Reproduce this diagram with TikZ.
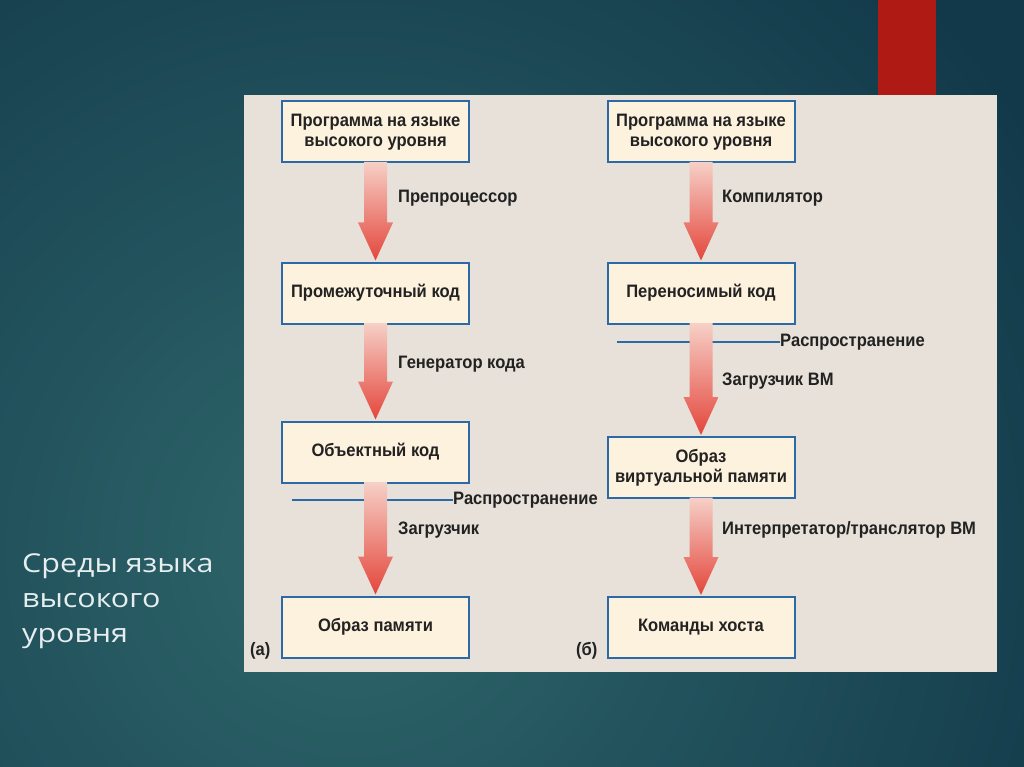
\documentclass[tikz,border=0pt]{standalone}
\usepackage{fontspec}
\setmainfont{Liberation Sans}
\newfontfamily\boxfont[FakeStretch=0.92]{Liberation Sans}
\newfontfamily\titlefont[FakeStretch=1.17]{Open Sans}
\usetikzlibrary{calc}
\definecolor{bgin}{HTML}{2F676B}
\definecolor{bgout}{HTML}{12394A}
\definecolor{redbar}{HTML}{B01A15}
\definecolor{panel}{HTML}{E7E1D9}
\definecolor{boxfill}{HTML}{FDF2DE}
\definecolor{boxline}{HTML}{2B6AA6}
\definecolor{txt}{HTML}{222222}
\definecolor{arrtop}{HTML}{F6D0C7}
\definecolor{arrbot}{HTML}{E4463C}
\definecolor{titlecol}{HTML}{E6EEF0}
\tikzset{
  stagebox/.style={draw=boxline, line width=2pt, fill=boxfill, minimum width=187pt,
    minimum height=61pt, inner sep=0pt, align=center, text=txt,
    font=\boxfont\bfseries\fontsize{18}{20}\selectfont},
  steplabel/.style={anchor=west, inner sep=0pt, text=txt,
    font=\boxfont\bfseries\fontsize{18}{20}\selectfont},
  distline/.style={draw=boxline, line width=1.6pt},
}
\newcommand\fatarrow[2]{%
  \shade[top color=arrtop, bottom color=arrbot]
    let \p1=($(#1.south)+(0,-1.5)$), \p2=(#2.north) in
    (\x1-11.5pt,\y1) -- (\x1+11.5pt,\y1) -- (\x1+11.5pt,\y2+39pt) --
    (\x1+17.5pt,\y2+39pt) -- (\x1,\y2+1pt) -- (\x1-17.5pt,\y2+39pt) --
    (\x1-11.5pt,\y2+39pt) -- cycle;}
\begin{document}
\begin{tikzpicture}[x=1pt,y=-1pt]
\useasboundingbox (0,0) rectangle (1024,767);
% background
\begin{scope}
\clip (0,0) rectangle (1024,767);
\shade[inner color=bgin, outer color=bgout] (-450,-250) rectangle (1150,1350);
\end{scope}
\fill[redbar] (878,0) rectangle (936,95);
\fill[panel] (244,95) rectangle (997,672);
% title
\node[anchor=north west, inner sep=0pt, align=left, text=titlecol,
  font=\titlefont\fontsize{26}{35}\selectfont] (title) at (22,553)
  {Среды языка\\высокого\\уровня};
% left column
\node[stagebox] (a1) at (375.5,132) {Программа на языке\\высокого уровня};
\node[stagebox] (a2) at (375.5,293) {Промежуточный код};
\node[stagebox] (a3) at (375.5,452) {Объектный код};
\node[stagebox] (a4) at (375.5,627) {Образ памяти};
% right column
\node[stagebox] (b1) at (701,132) {Программа на языке\\высокого уровня};
\node[stagebox] (b2) at (701,293) {Переносимый код};
\node[stagebox] (b3) at (701,467.5) {Образ\\виртуальной памяти};
\node[stagebox] (b4) at (701,627.5) {Команды хоста};
% distribution lines
\node[steplabel] (ad) at (453,500) {Распространение};
\coordinate (adl) at (292,500);
\draw[distline] (adl) -- (ad.west);
\node[steplabel] (bd) at (780,342) {Распространение};
\coordinate (bdl) at (617,342);
\draw[distline] (bdl) -- (bd.west);
% arrows
\fatarrow{a1}{a2}
\fatarrow{a2}{a3}
\fatarrow{a3}{a4}
\fatarrow{b1}{b2}
\fatarrow{b2}{b3}
\fatarrow{b3}{b4}
% arrow labels
\node[steplabel] (la1) at (398,198) {Препроцессор};
\node[steplabel] (la2) at (398,364) {Генератор кода};
\node[steplabel] (la3) at (398,530) {Загрузчик};
\node[steplabel] (lb1) at (722,198) {Компилятор};
\node[steplabel] (lb2) at (722,381) {Загрузчик ВМ};
\node[steplabel] (lb3) at (722,530) {Интерпретатор/транслятор ВМ};
% panel tags
\node[steplabel] (taga) at (250,651) {(а)};
\node[steplabel] (tagb) at (576,651) {(б)};
\end{tikzpicture}
\end{document}
